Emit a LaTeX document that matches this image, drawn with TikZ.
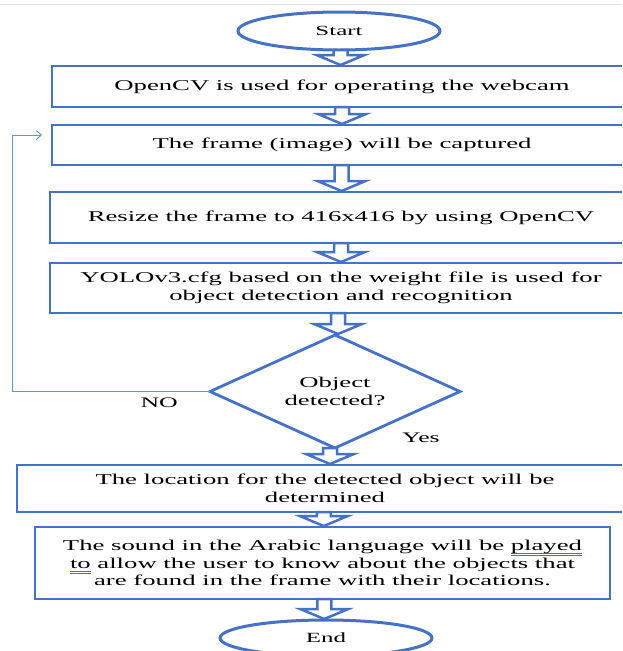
\documentclass[tikz,border=0pt]{standalone}
\usepackage{fontspec}
\setmainfont[FakeStretch=1.78]{Liberation Serif}
\usepackage{xcolor}
\usepackage{tikz}
\usetikzlibrary{calc}
\usetikzlibrary{positioning}
\usetikzlibrary{arrows.meta}
\usetikzlibrary{shapes}

\definecolor{flowblue}{HTML}{4472C4}
\definecolor{loopblue}{HTML}{5B9BD5}

% hollow block arrow from the bottom of #1 down to the top of #2
\newcommand{\blockarrow}[2]{%
  \coordinate (ba mid) at ($(#1.south)!.5!(#2.north)$);
  \coordinate (ba top) at (ba mid |- #1.south);
  \coordinate (ba tip) at ($(ba mid |- #2.north)+(0,-1)$);
  \draw[block arrow] ($(ba top)+(-7,0)$) -- ($(ba tip)+(-7,-10)$)
    -- ($(ba tip)+(-24,-10)$) -- (ba tip) -- ($(ba tip)+(24,-10)$)
    -- ($(ba tip)+(7,-10)$) -- ($(ba top)+(7,0)$) -- cycle;}

% word marked by the grammar check (blue double underline)
\newsavebox{\gramsave}
\newcommand{\gramcheck}[1]{\sbox{\gramsave}{#1}%
  \rlap{\color{flowblue}\raisebox{-3pt}{\rule{\wd\gramsave}{0.6pt}}}%
  \rlap{\color{flowblue}\raisebox{-5pt}{\rule{\wd\gramsave}{0.6pt}}}%
  \usebox{\gramsave}}

\begin{document}
\begin{tikzpicture}[x=1pt,y=-1pt,
      font=\fontsize{15pt}{17.5pt}\selectfont,
      term style/.style={ellipse,draw=flowblue,line width=3pt,inner sep=0pt,
        outer sep=0pt,font=\fontsize{14pt}{16pt}\selectfont},
      box style/.style={rectangle,draw=flowblue,line width=2.8pt,align=center,
        inner sep=0pt,outer sep=0pt},
      dec style/.style={diamond,aspect=2.2,draw=flowblue,line width=2.8pt,align=center,
        minimum width=250pt,minimum height=113pt,inner sep=0pt,outer sep=0pt},
      lbl style/.style={inner sep=0pt,font=\fontsize{14.5pt}{16pt}\selectfont},
      block arrow/.style={draw=flowblue,line width=2.5pt,fill=white,line join=miter},
      loop line/.style={draw=loopblue,line width=1pt,-{Straight Barb[length=5pt,width=9pt]}}
      ]
      \useasboundingbox (0,0) rectangle (622,651);
      \clip (0,0) rectangle (622,651);
      \draw[black!12,line width=1pt] (0,4) -- (622,4);

      \node[term style,minimum width=202pt,minimum height=38pt] (start) at (339,31) {Start};
      \node[box style,minimum width=580pt,minimum height=41pt,below=16pt of start,xshift=3pt]
        (open) {OpenCV is used for operating the webcam};
      \node[box style,minimum width=580pt,minimum height=40pt,below=18pt of open]
        (frame) {The frame (image) will be captured};
      \node[box style,minimum width=582pt,minimum height=51pt,below=27pt of frame,xshift=-1pt]
        (resize) {Resize the frame to 416x416 by using OpenCV};
      \node[box style,minimum width=582pt,minimum height=50pt,below=20pt of resize]
        (yolo) {YOLOv3.cfg based on the weight file is used for\\object detection and recognition};
      \node[dec style,below=22pt of yolo,xshift=-6pt] (detect) {Object\\detected?};
      \node[box style,minimum width=616pt,minimum height=47pt,below=17pt of detect,xshift=-10pt]
        (locate) {The location for the detected object will be\\determined};
      \node[box style,minimum width=575pt,minimum height=72pt,below=15pt of locate,xshift=-2.5pt]
        (sound) {The sound in the Arabic language will be \gramcheck{played}\\
          \gramcheck{to} allow the user to know about the objects that\\
          are found in the frame with their locations.};
      \node[term style,minimum width=212pt,minimum height=36pt,below=21pt of sound,xshift=3.5pt]
        (end) {End};

      \blockarrow{start}{open}
      \blockarrow{open}{frame}
      \blockarrow{frame}{resize}
      \blockarrow{resize}{yolo}
      \blockarrow{yolo}{detect}
      \blockarrow{detect}{locate}
      \blockarrow{locate}{sound}
      \blockarrow{sound}{end}

      \coordinate[left=10pt of frame.west,yshift=10pt] (loop end);
      \coordinate[left=30pt of loop end] (loop corner);
      \draw[loop line] (detect.west) -| (loop corner) -- (loop end);
      \node[lbl style,left=32pt of detect.west,yshift=-11pt] (no) {NO};
      \node[lbl style,right=67pt of detect.south,yshift=10pt] (yes) {Yes};
    \end{tikzpicture}
\end{document}
